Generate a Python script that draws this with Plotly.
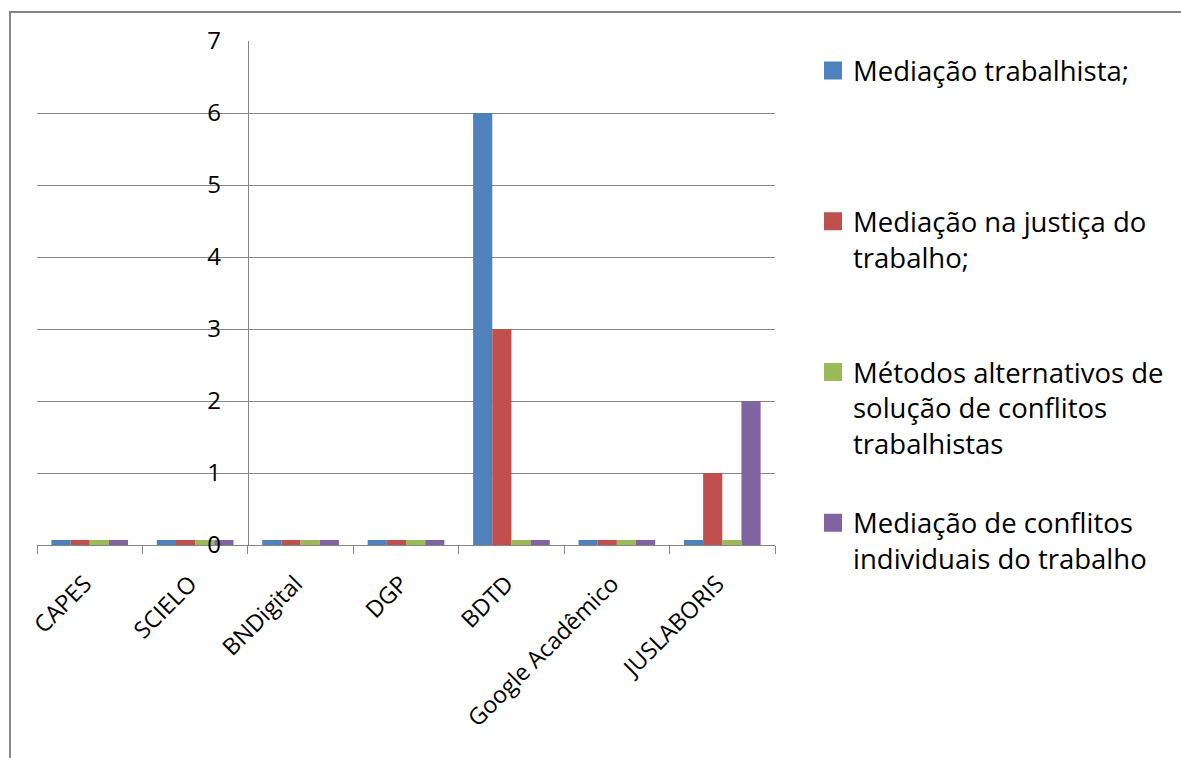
import plotly.graph_objects as go

categories = ["CAPES", "SCIELO", "BNDigital", "DGP", "BDTD", "Google Acadêmico", "JUSLABORIS"]
series_names = [
    "Mediação trabalhista;",
    "Mediação na justiça do<br>trabalho;",
    "Métodos alternativos de<br>solução de conflitos<br>trabalhistas",
    "Mediação de conflitos<br>individuais do trabalho",
]
mediacao_trabalhista = [0.07, 0.07, 0.07, 0.07, 6, 0.07, 0.07]
mediacao_justica = [0.07, 0.07, 0.07, 0.07, 3, 0.07, 1]
metodos_alternativos = [0.07, 0.07, 0.07, 0.07, 0.07, 0.07, 0.07]
mediacao_individuais = [0.07, 0.07, 0.07, 0.07, 0.07, 0.07, 2]
y_ticks = [0, 1, 2, 3, 4, 5, 6, 7]

series_values = [mediacao_trabalhista, mediacao_justica, metodos_alternativos, mediacao_individuais]
colors = ["#4F81BD", "#C0504D", "#9BBB59", "#8064A2"]

FONT = "Open Sans, sans-serif"
W, H = 1181, 758
L, R, T, B = 37, 775, 41, 545
LEG_SIZE = 27.5

fig = go.Figure()
for i, (name, vals, col) in enumerate(zip(series_names, series_values, colors)):
    fig.add_trace(go.Bar(
        x=categories, y=vals, name=name, marker=dict(color=col, line=dict(width=0)),
        showlegend=False, hoverinfo="x+y",
    ))
for i, (name, col) in enumerate(zip(series_names, colors)):
    lines = name.count("<br>") + 1
    label = name + "<br>\u00a0" * (3 - lines)
    fig.add_trace(go.Scatter(
        x=[None], y=[None], mode="markers", name=label, legendgroup=f"g{i}",
        marker=dict(symbol="square", size=16, color=col, line=dict(color=col, width=2)),
    ))

grid = "#868686"
fig.update_layout(
    width=W, height=H,
    margin=dict(l=L, r=W - R, t=T, b=H - B, pad=0, autoexpand=False),
    paper_bgcolor="white", plot_bgcolor="white",
    barmode="group", bargap=1.5 / 5.5, bargroupgap=0,
    font=dict(family=FONT, color="black"),
    xaxis=dict(
        type="category", range=[-0.5, 6.5], showgrid=False,
        showline=True, linecolor=grid, linewidth=1,
        ticks="outside", tickson="boundaries", ticklen=8, tickcolor=grid, tickwidth=1,
        tickangle=-45, ticklabelstandoff=15, ticklabelshift=-5,
        tickfont=dict(size=23.3, family=FONT, color="black"),
    ),
    yaxis=dict(
        range=[0, 7], tickvals=y_ticks, anchor="free", position=2 / 7,
        showgrid=True, gridcolor=grid, gridwidth=1,
        showline=True, linecolor=grid, linewidth=1,
        ticks="", ticklabelstandoff=22, zeroline=False,
        tickfont=dict(size=24, family=FONT, color="black"),
    ),
    legend=dict(
        x=(813 - L) / (R - L), xanchor="left",
        y=(B - 46) / (B - T), yanchor="top",
        valign="top", tracegroupgap=40.5, maxheight=650,
        font=dict(size=LEG_SIZE, family=FONT, color="black"),
        bgcolor="rgba(0,0,0,0)", borderwidth=0,
    ),
    showlegend=True,
)

# outer chart border (extends past right and bottom edges as in the reference)
fig.add_shape(
    type="rect", xref="paper", yref="paper",
    x0=(10 - L) / (R - L), x1=(1200 - L) / (R - L),
    y0=(B - 780) / (B - T), y1=(B - 12) / (B - T),
    line=dict(color=grid, width=2), fillcolor="rgba(0,0,0,0)", layer="below",
)

fig.write_html("out.html")
